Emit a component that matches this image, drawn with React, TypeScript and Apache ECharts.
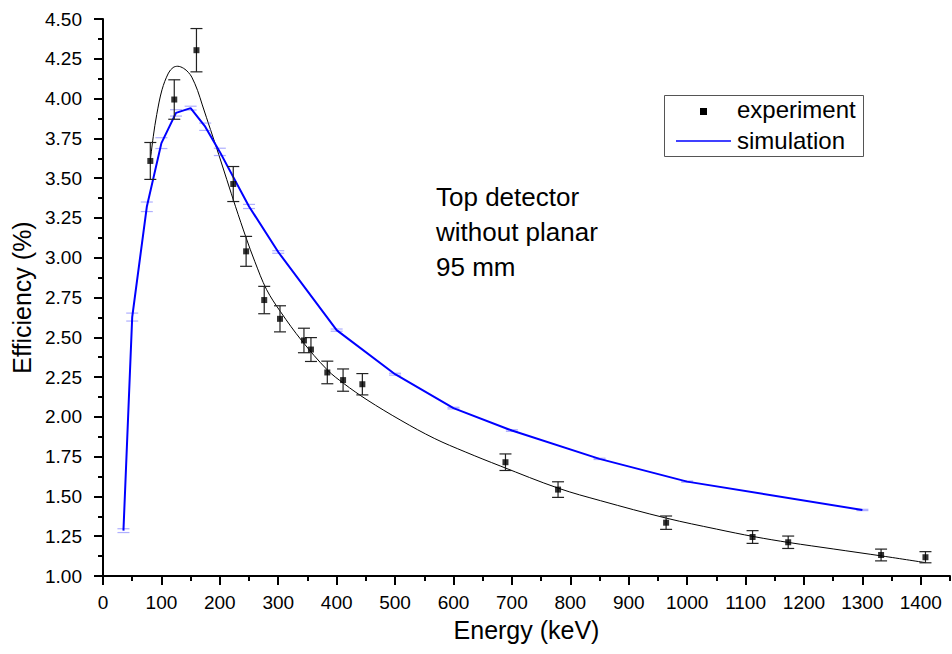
import React, { useEffect, useRef } from 'react';
import * as echarts from 'echarts';

// Experimental points
const expEnergy = [81, 122, 160, 223, 245, 276, 303, 344, 356, 384, 411, 444, 689, 779, 964, 1112, 1173, 1332, 1408];
const expEff = [3.608, 3.994, 4.304, 3.463, 3.04, 2.734, 2.616, 2.48, 2.423, 2.279, 2.231, 2.205, 1.715, 1.543, 1.335, 1.245, 1.212, 1.132, 1.118];
const expErr = [0.116, 0.124, 0.136, 0.11, 0.094, 0.086, 0.082, 0.077, 0.075, 0.071, 0.07, 0.067, 0.052, 0.049, 0.042, 0.04, 0.039, 0.037, 0.035];

// Simulation
const simEnergy = [35, 50, 75, 100, 125, 150, 175, 200, 250, 300, 400, 500, 600, 700, 850, 1000, 1300];
const simEff = [1.285, 2.627, 3.32, 3.72, 3.91, 3.94, 3.823, 3.665, 3.322, 3.036, 2.545, 2.268, 2.055, 1.914, 1.736, 1.593, 1.415];
const simErr = [0.012, 0.025, 0.03, 0.034, 0.02, 0.012, 0.023, 0.023, 0.013, 0.008, 0.007, 0.006, 0.005, 0.005, 0.004, 0.004, 0.004];

// Fit curve
const fitEnergy = [81, 86, 92, 101, 112, 120, 128, 138, 146, 152, 162, 170, 184, 198, 212, 227, 245, 260, 280, 304, 340, 384, 412, 452, 510, 567, 620, 681, 780, 852, 965, 1050, 1115, 1175, 1250, 1335, 1408];
const fitEff = [3.61, 3.76, 3.9, 4.055, 4.16, 4.195, 4.203, 4.19, 4.165, 4.135, 4.05, 3.96, 3.805, 3.65, 3.49, 3.32, 3.125, 2.975, 2.8, 2.66, 2.48, 2.295, 2.21, 2.107, 1.978, 1.865, 1.78, 1.69, 1.551, 1.473, 1.363, 1.295, 1.247, 1.21, 1.17, 1.125, 1.084];

// Axis ticks
const xMajorTicks = [0, 100, 200, 300, 400, 500, 600, 700, 800, 900, 1000, 1100, 1200, 1300, 1400];
const xMinorTicks = [50, 150, 250, 350, 450, 550, 650, 750, 850, 950, 1050, 1150, 1250, 1350, 1450];

const annotationLines = ['Top detector', 'without planar', '95 mm'];

const FONT = "'Liberation Sans', Arial, sans-serif";

function errorBars(xs: number[], ys: number[], errs: number[], color: string, capHalf: number, drawStem: boolean, z: number) {
  return {
    type: 'custom',
    silent: true,
    z,
    data: xs.map((x, i) => [x, ys[i] - errs[i], ys[i] + errs[i]]),
    encode: { x: 0, y: [1, 2] },
    renderItem: (params: any, api: any) => {
      const x = api.value(0);
      const lo = api.coord([x, api.value(1)]);
      const hi = api.coord([x, api.value(2)]);
      const st = { stroke: color, lineWidth: 1.2 };
      const children: any[] = [
        { type: 'line', shape: { x1: lo[0] - capHalf, y1: lo[1], x2: lo[0] + capHalf, y2: lo[1] }, style: st },
        { type: 'line', shape: { x1: hi[0] - capHalf, y1: hi[1], x2: hi[0] + capHalf, y2: hi[1] }, style: st },
      ];
      if (drawStem) {
        children.push({ type: 'line', shape: { x1: lo[0], y1: lo[1], x2: hi[0], y2: hi[1] }, style: st });
      }
      return { type: 'group', children };
    },
  };
}

export default function App() {
  const ref = useRef<HTMLDivElement>(null);
  useEffect(() => {
    const chart = echarts.init(ref.current!, null, { renderer: 'svg' });
    const option: any = {
      animation: false,
      backgroundColor: '#fff',
      textStyle: { fontFamily: FONT },
      grid: { left: 103, top: 19, width: 847, height: 557 },
      xAxis: [
        {
          type: 'value', min: 0, max: 1450, interval: 100,
          axisLine: { show: true, lineStyle: { color: '#000', width: 2 } },
          axisTick: { show: true, length: 9, lineStyle: { color: '#000', width: 2 }, customValues: xMajorTicks },
          axisLabel: { customValues: xMajorTicks, formatter: (v: number) => String(v), fontSize: 19, color: '#000', fontFamily: FONT, margin: 17 },
          splitLine: { show: false },
          name: 'Energy (keV)', nameLocation: 'middle', nameGap: 41,
          nameTextStyle: { fontSize: 25, color: '#000', fontFamily: FONT },
        },
        {
          type: 'value', min: 0, max: 1450, position: 'bottom',
          axisLine: { show: false },
          axisTick: { show: true, length: 5, lineStyle: { color: '#000', width: 2 }, customValues: xMinorTicks },
          axisLabel: { show: false },
          splitLine: { show: false },
        },
      ],
      yAxis: {
        type: 'value', min: 1, max: 4.5, interval: 0.25,
        axisLine: { show: true, lineStyle: { color: '#000', width: 2 } },
        axisTick: { show: true, length: 9, lineStyle: { color: '#000', width: 2 } },
        minorTick: { show: true, splitNumber: 2, length: 5, lineStyle: { color: '#000', width: 2 } },
        axisLabel: { formatter: (v: number) => v.toFixed(2), fontSize: 19, color: '#000', fontFamily: FONT, margin: 21 },
        splitLine: { show: false },
        name: 'Efficiency (%)', nameLocation: 'middle', nameGap: 62,
        nameTextStyle: { fontSize: 25, color: '#000', fontFamily: FONT },
      },
      series: [
        {
          name: 'fit', type: 'line', smooth: 0.35, showSymbol: false, z: 2,
          data: fitEnergy.map((e, i) => [e, fitEff[i]]),
          lineStyle: { color: '#000', width: 1 },
        },
        errorBars(simEnergy, simEff, simErr, 'rgba(110,110,255,0.55)', 6, false, 3),
        {
          name: 'simulation', type: 'line', showSymbol: false, z: 4,
          data: simEnergy.map((e, i) => [e, simEff[i]]),
          lineStyle: { color: '#0000ff', width: 2 },
        },
        errorBars(expEnergy, expEff, expErr, '#222', 6, true, 5),
        {
          name: 'experiment', type: 'scatter', symbol: 'rect', symbolSize: 6, z: 6,
          data: expEnergy.map((e, i) => [e, expEff[i]]),
          itemStyle: { color: '#000' },
        },
      ],
      graphic: [
        { type: 'rect', z: 100, shape: { x: 664.5, y: 95.5, width: 199, height: 61 }, style: { fill: '#fff', stroke: '#555', lineWidth: 1 } },
        { type: 'rect', z: 101, shape: { x: 700, y: 108, width: 7, height: 7 }, style: { fill: '#000' } },
        { type: 'line', z: 101, shape: { x1: 676, y1: 141, x2: 731, y2: 141 }, style: { stroke: '#0000ff', lineWidth: 1.5 } },
        { type: 'text', z: 101, x: 737, y: 109, style: { text: 'experiment', fontSize: 24, fontFamily: FONT, fill: '#000', textAlign: 'left', textVerticalAlign: 'middle' } },
        { type: 'text', z: 101, x: 737, y: 140, style: { text: 'simulation', fontSize: 24, fontFamily: FONT, fill: '#000', textAlign: 'left', textVerticalAlign: 'middle' } },
        ...annotationLines.map((t, i) => ({
          type: 'text', z: 101, x: 436, y: 197 + i * 35,
          style: { text: t, fontSize: 26, fontFamily: FONT, fill: '#000', textAlign: 'left', textVerticalAlign: 'middle' },
        })),
      ],
    };
    chart.setOption(option);
    return () => chart.dispose();
  }, []);
  return <div ref={ref} style={{ position: 'absolute', left: 0, top: 0, width: 952, height: 654, background: '#fff' }} />;
}
